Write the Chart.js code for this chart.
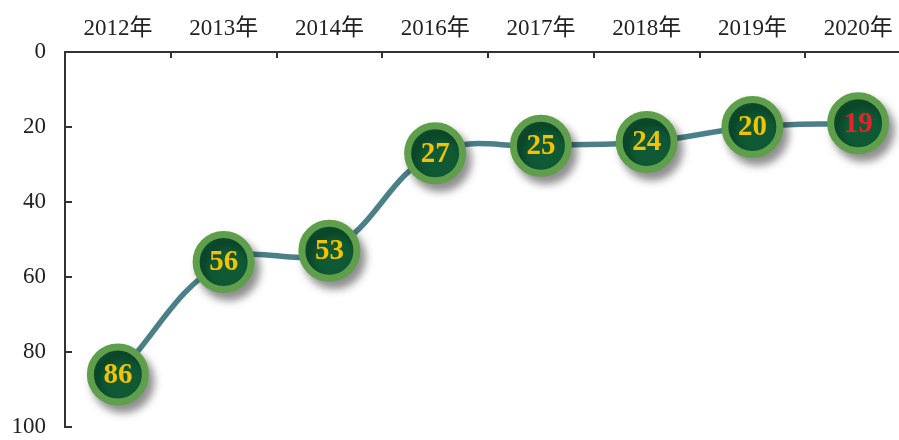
<!DOCTYPE html>
<html>
<head>
<meta charset="utf-8">
<script src="https://cdn.jsdelivr.net/npm/chart.js@4"></script>
<style>
html,body{margin:0;padding:0;background:#fff;overflow:hidden;}
#wrap{width:899px;height:440px;overflow:hidden;position:relative;}
#c{display:block;}
</style>
</head>
<body>
<div id="wrap"><canvas id="c" width="911" height="440"></canvas></div>
<script>
const categories = ['2012年','2013年','2014年','2016年','2017年','2018年','2019年','2020年'];
const values = [86, 56, 53, 27, 25, 24, 20, 19];
const labelColors = ['#f5c200','#f5c200','#f5c200','#f5c200','#f5c200','#f5c200','#f5c200','#e8222a'];
const yTicks = [0, 20, 40, 60, 80, 100];

const FONT = '"Liberation Serif", "Noto Sans CJK SC", serif';

const shadowPlugin = {
  id: 'shadow',
  beforeDatasetDraw(chart, args) {
    if (args.index === 0) {
      const ctx = chart.ctx;
      ctx.save();
      ctx.shadowColor = 'rgba(0,0,0,0.4)';
      ctx.shadowBlur = 10;
      ctx.shadowOffsetX = 5;
      ctx.shadowOffsetY = 7;
    }
  },
  afterDatasetDraw(chart, args) {
    if (args.index === 0) chart.ctx.restore();
  }
};

const labelPlugin = {
  id: 'vlabels',
  afterDatasetsDraw(chart) {
    const ctx = chart.ctx;
    const meta = chart.getDatasetMeta(0);
    ctx.save();
    ctx.font = 'bold 29px ' + FONT;
    ctx.textAlign = 'center';
    ctx.textBaseline = 'middle';
    meta.data.forEach((pt, i) => {
      ctx.fillStyle = labelColors[i];
      ctx.fillText(String(values[i]), pt.x, pt.y + 1);
    });
    ctx.restore();
  }
};

const tickPlugin = {
  id: 'innerTicks',
  afterDraw(chart) {
    const ctx = chart.ctx;
    const x = chart.scales.x, y = chart.scales.y;
    const area = chart.chartArea;
    ctx.save();
    ctx.strokeStyle = '#333';
    ctx.lineWidth = 2;
    ctx.beginPath();
    for (let i = 1; i < categories.length; i++) {
      const px = Math.round((x.getPixelForValue(i - 1) + x.getPixelForValue(i)) / 2);
      ctx.moveTo(px, area.top);
      ctx.lineTo(px, area.top + 6);
    }
    yTicks.forEach(v => {
      if (v === 0) return;
      const py = Math.round(y.getPixelForValue(v));
      ctx.moveTo(area.left, py);
      ctx.lineTo(area.left + 7, py);
    });
    ctx.stroke();
    ctx.restore();
  }
};

new Chart(document.getElementById('c'), {
  type: 'line',
  data: {
    labels: categories,
    datasets: [
      {
        data: values,
        showLine: false,
        pointRadius: 27.5,
        pointHoverRadius: 27.5,
        pointBorderWidth: 7,
        pointBackgroundColor: '#0f5a35',
        pointBorderColor: '#5f9f4b',
        clip: false
      },
      {
        data: values,
        borderColor: '#4b8088',
        borderWidth: 5.5,
        tension: 0.4,
        pointRadius: 0,
        fill: false,
        clip: false
      }
    ]
  },
  options: {
    responsive: false,
    animation: false,
    events: [],
    layout: { autoPadding: false, padding: { top: 0, bottom: 13, left: 0, right: 0 } },
    plugins: { legend: { display: false }, tooltip: { enabled: false } },
    scales: {
      x: {
        position: 'top',
        offset: true,
        grid: { display: false, drawTicks: false },
        border: { display: true, color: '#333', width: 2 },
        ticks: { color: '#222', font: { family: FONT, size: 23 }, padding: 9, maxRotation: 0, autoSkip: false },
        afterFit(s) { s.height = 52; s.paddingLeft = 0; s.paddingRight = 0; s.paddingTop = 0; s.paddingBottom = 0; }
      },
      y: {
        reverse: true,
        min: 0,
        max: 100,
        afterBuildTicks(s) { s.ticks = yTicks.map(v => ({ value: v })); },
        grid: { display: false, drawTicks: false },
        border: { display: true, color: '#333', width: 2 },
        ticks: { color: '#222', font: { family: FONT, size: 23 }, padding: 19 },
        afterFit(s) { s.width = 65; s.paddingTop = 0; s.paddingBottom = 0; s.paddingLeft = 0; s.paddingRight = 0; }
      }
    }
  },
  plugins: [shadowPlugin, labelPlugin, tickPlugin]
});
</script>
</body>
</html>
